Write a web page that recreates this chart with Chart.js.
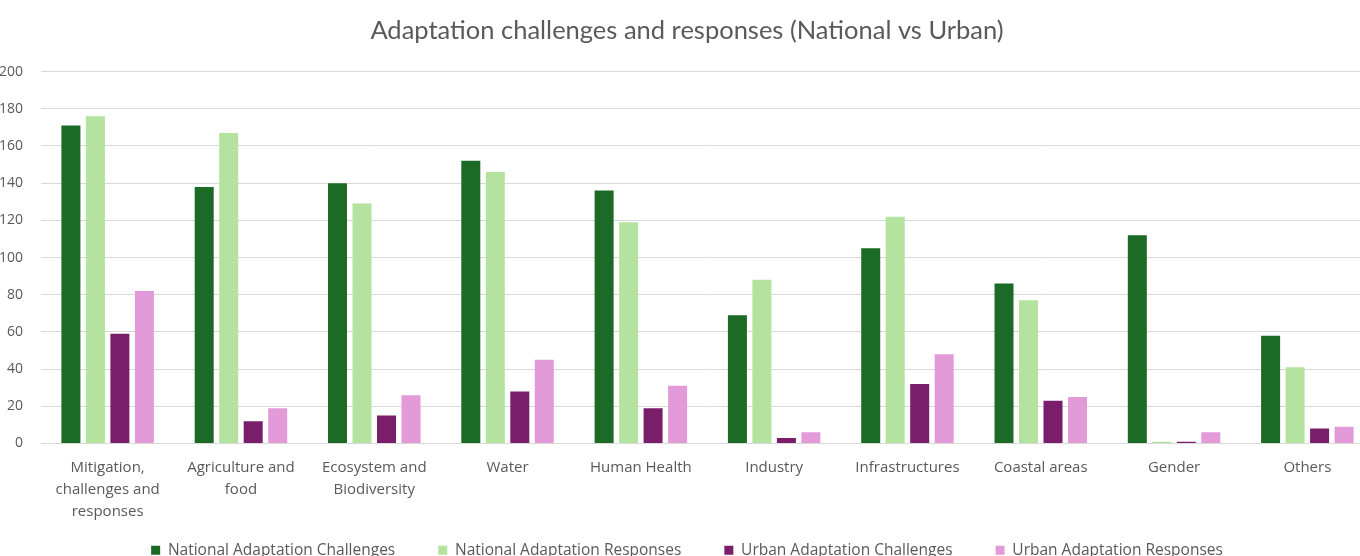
<!DOCTYPE html>
<html>
<head>
<meta charset="utf-8">
<script src="https://cdn.jsdelivr.net/npm/chart.js@4"></script>
<style>
  html, body { margin: 0; padding: 0; background: #ffffff; overflow: hidden; }
  #wrap { position: absolute; left: 0; top: 0; width: 1380px; height: 556px; }
</style>
</head>
<body>
<div id="wrap"><canvas id="c"></canvas></div>
<script>
const categories = [
  ["Mitigation,", "challenges and", "responses"],
  ["Agriculture and", "food"],
  ["Ecosystem and", "Biodiversity"],
  "Water",
  "Human Health",
  "Industry",
  "Infrastructures",
  "Coastal areas",
  "Gender",
  "Others"
];
const seriesNames = [
  "National Adaptation Challenges",
  "National Adaptation Responses",
  "Urban Adaptation Challenges",
  "Urban Adaptation Responses"
];
const nationalChallenges = [171, 138, 140, 152, 136, 69, 105, 86, 112, 58];
const nationalResponses  = [176, 167, 129, 146, 119, 88, 122, 77, 1, 41];
const urbanChallenges    = [59, 12, 15, 28, 19, 3, 32, 23, 1, 8];
const urbanResponses     = [82, 19, 26, 45, 31, 6, 48, 25, 6, 9];
const yTicks = [0, 20, 40, 60, 80, 100, 120, 140, 160, 180, 200];

const colors = ["#1b6b26", "#b3e39f", "#7a1e6b", "#e39ad9"];
const seriesValues = [nationalChallenges, nationalResponses, urbanChallenges, urbanResponses];

const smallFont = "'Open Sans', sans-serif";
const titleFont = "Lato, 'Open Sans', sans-serif";
const textColor = "#595959";

const noClipX = {
  id: "noClipX",
  beforeDraw(chart) {
    const s = chart.scales.x;
    if (s) { s._computeLabelArea = () => undefined; }
  }
};

new Chart(document.getElementById("c"), {
  type: "bar",
  data: {
    labels: categories,
    datasets: seriesNames.map((name, i) => ({
      label: name,
      data: seriesValues[i],
      backgroundColor: colors[i],
      borderWidth: 0,
      barPercentage: 0.776,
      categoryPercentage: 0.735
    }))
  },
  plugins: [noClipX],
  options: {
    responsive: true,
    maintainAspectRatio: false,
    animation: false,
    layout: { padding: { left: 0, right: 6, top: 0, bottom: -12 } },
    plugins: {
      title: {
        display: true,
        text: "Adaptation challenges and responses (National vs Urban)",
        color: textColor,
        font: { family: titleFont, size: 25.5, weight: "normal" },
        padding: { top: 15, bottom: 26 }
      },
      legend: {
        position: "bottom",
        labels: {
          color: textColor,
          font: { family: smallFont, size: 15.5 },
          boxWidth: 9,
          boxHeight: 9,
          padding: 43
        }
      },
      tooltip: { enabled: false }
    },
    scales: {
      x: {
        grid: { display: false, drawTicks: false },
        border: { display: true, color: "#d9d9d9", width: 1 },
        ticks: {
          color: textColor,
          font: { family: smallFont, size: 15, lineHeight: 1.47 },
          padding: 13,
          maxRotation: 0,
          autoSkip: false
        },
        afterFit: (s) => { s.height = 56; }
      },
      y: {
        min: 0,
        max: 200,
        afterBuildTicks: (s) => { s.ticks = yTicks.map(v => ({ value: v })); },
        grid: { color: "#d9d9d9", drawTicks: false, lineWidth: 1 },
        border: { display: false },
        ticks: {
          color: textColor,
          font: { family: smallFont, size: 14 },
          padding: 18
        },
        afterFit: (s) => { s.width = 41; }
      }
    }
  }
});
</script>
</body>
</html>
